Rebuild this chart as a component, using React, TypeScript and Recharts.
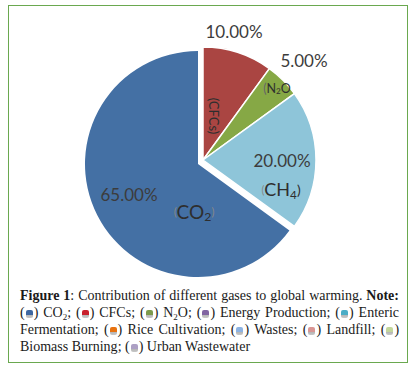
import React from 'react';
import { PieChart, Pie, Cell } from 'recharts';

const gases = ['CO2', 'CFCs', 'N2O', 'CH4'];
const shares = [65, 10, 5, 20];
const sliceColors = ['#4470a4', '#aa4542', '#86a845', '#8ec5d9'];
const order = ['CFCs', 'N2O', 'CH4', 'CO2'];

const legendNames = ['CO2', 'CFCs', 'N2O', 'Energy Production', 'Enteric Fermentation', 'Rice Cultivation', 'Wastes', 'Landfill', 'Biomass Burning', 'Urban Wastewater'];
const legendColors = ['#3d67a0', '#c8202c', '#7c9a4c', '#8064a2', '#4badc6', '#e8720f', '#8db3e2', '#d99694', '#c3d69b', '#ada0c4'];

const data = order.map((g) => ({ name: g, value: shares[gases.indexOf(g)], color: sliceColors[gases.indexOf(g)] }));

const TXT = '#3c3c3c';
const FONT = 'Lato, "Open Sans", sans-serif';

// label offsets relative to pie centre (layout only)
const labelLayout: Record<string, { pct: [number, number]; name: [number, number] }> = {
  CFCs: { pct: [31, -129], name: [11, -44] },
  N2O: { pct: [101, -100], name: [74, -72] },
  CH4: { pct: [79, 0], name: [78, 29] },
  CO2: { pct: [-69, 30], name: [-4, 47] },
};

const Sub = ({ children, d }: { children: React.ReactNode; d: number }) => (
  <tspan dy={d} fontSize="0.65em">{children}</tspan>
);

const nameContent = (name: string) => {
  if (name === 'CO2') return (<>
    <tspan fontSize={11} fill="#888">(</tspan><tspan>CO</tspan><Sub d={5}>2</Sub><tspan dy={-5} fontSize={11} fill="#888">)</tspan>
  </>);
  if (name === 'CH4') return (<>
    <tspan fontSize={11} fill="#888">(</tspan><tspan>CH</tspan><Sub d={5}>4</Sub><tspan dy={-5} fontSize={14}>)</tspan>
  </>);
  if (name === 'N2O') return (<>
    <tspan fill="#666">(</tspan><tspan>N</tspan><Sub d={3}>2</Sub><tspan dy={-3}>O</tspan>
  </>);
  return <tspan>(CFCs)</tspan>;
};

const nameSize: Record<string, number> = { CO2: 19, CH4: 18, N2O: 12.5, CFCs: 13 };

const makeLabel = (which: string[]) => (props: any) => {
  const { cx, cy, payload, index } = props;
  const name = payload?.name ?? data[index].name;
  if (!which.includes(name)) return null;
  const lay = labelLayout[name];
  const [px, py] = lay.pct;
  const [nx, ny] = lay.name;
  const rotate = name === 'CFCs' ? `rotate(90 ${cx + nx} ${cy + ny})` : undefined;
  return (
    <g key={name}>
      <text x={cx + px} y={cy + py} textAnchor="middle" dominantBaseline="central" fontSize={17} fontFamily={FONT} fill={TXT}>
        {`${payload?.value ?? data[index].value}.00%`}
      </text>
      <text x={cx + nx} y={cy + ny} textAnchor="middle" dominantBaseline="central" fontSize={nameSize[name]} fontFamily={FONT} fill="#2e2e2e" transform={rotate}>
        {nameContent(name)}
      </text>
    </g>
  );
};

const Swatch = ({ color }: { color: string }) => (
  <span style={{ display: 'inline-block', width: 7, height: 8, borderRadius: 2, background: `linear-gradient(${color} 0%, ${color} 62%, #b5b5b5 63%, #c8c8c8 100%)`, verticalAlign: -1, margin: '0 1px' }} />
);

const SubHtml = ({ children }: { children: React.ReactNode }) => (
  <span style={{ fontSize: 9, position: 'relative', top: 3 }}>{children}</span>
);

const legendLabel = (n: string) => {
  if (n === 'CO2') return <>CO<SubHtml>2</SubHtml></>;
  if (n === 'N2O') return <>N<SubHtml>2</SubHtml>O</>;
  return n;
};

const Mark = ({ i }: { i: number }) => (<>({<Swatch color={legendColors[i]} />})</>);
const Item = ({ i, last }: { i: number; last?: boolean }) => (
  <><Mark i={i} /> {legendLabel(legendNames[i])}{last ? '' : '; '}</>
);

const justified: React.CSSProperties = { textAlign: 'justify', textAlignLast: 'justify', whiteSpace: 'nowrap' };

export default function App() {
  const [ent1, ent2] = legendNames[4].split(' ');
  return (
    <div style={{ position: 'absolute', left: 0, top: 0, width: 416, height: 367, background: '#fff' }}>
      <div style={{ position: 'absolute', left: 8, top: 5, width: 398, height: 356, border: '1px solid #6aa84f' }} />
      <div style={{ position: 'absolute', left: 0, top: 0 }}>
        <PieChart width={416} height={285}>
          <Pie data={data} dataKey="value" cx={193} cy={159} outerRadius={113} startAngle={90} endAngle={-270}
            stroke="none" isAnimationActive={false} labelLine={false} label={makeLabel(['CO2'])}>
            {data.map((d) => (
              <Cell key={d.name} fill={d.name === 'CO2' ? d.color : 'transparent'} />
            ))}
          </Pie>
          <Pie data={data} dataKey="value" cx={198} cy={155} outerRadius={113} startAngle={90} endAngle={-270}
            stroke="#fff" strokeWidth={1.5} isAnimationActive={false} labelLine={false} label={makeLabel(['CFCs', 'N2O', 'CH4'])}>
            {data.map((d) => (
              <Cell key={d.name} fill={d.name === 'CO2' ? 'transparent' : d.color} stroke={d.name === 'CO2' ? 'none' : '#fff'} />
            ))}
          </Pie>
        </PieChart>
      </div>
      <div style={{ position: 'absolute', left: 20, top: 288, width: 379, fontFamily: '"Liberation Serif", serif', fontSize: 14, lineHeight: '16.5px', color: '#1a1a1a' }}>
        <div style={justified}><b>Figure 1</b>: Contribution of different gases to global warming. <b>Note:</b></div>
        <div style={justified}>
          <Item i={0} /><Item i={1} /><Item i={2} /><Item i={3} /><Mark i={4} /> {ent1}
        </div>
        <div style={justified}>
          {ent2}; <Item i={5} /><Item i={6} /><Item i={7} /><Mark i={8} />
        </div>
        <div>
          {legendNames[8]}; <Item i={9} last />
        </div>
      </div>
    </div>
  );
}
